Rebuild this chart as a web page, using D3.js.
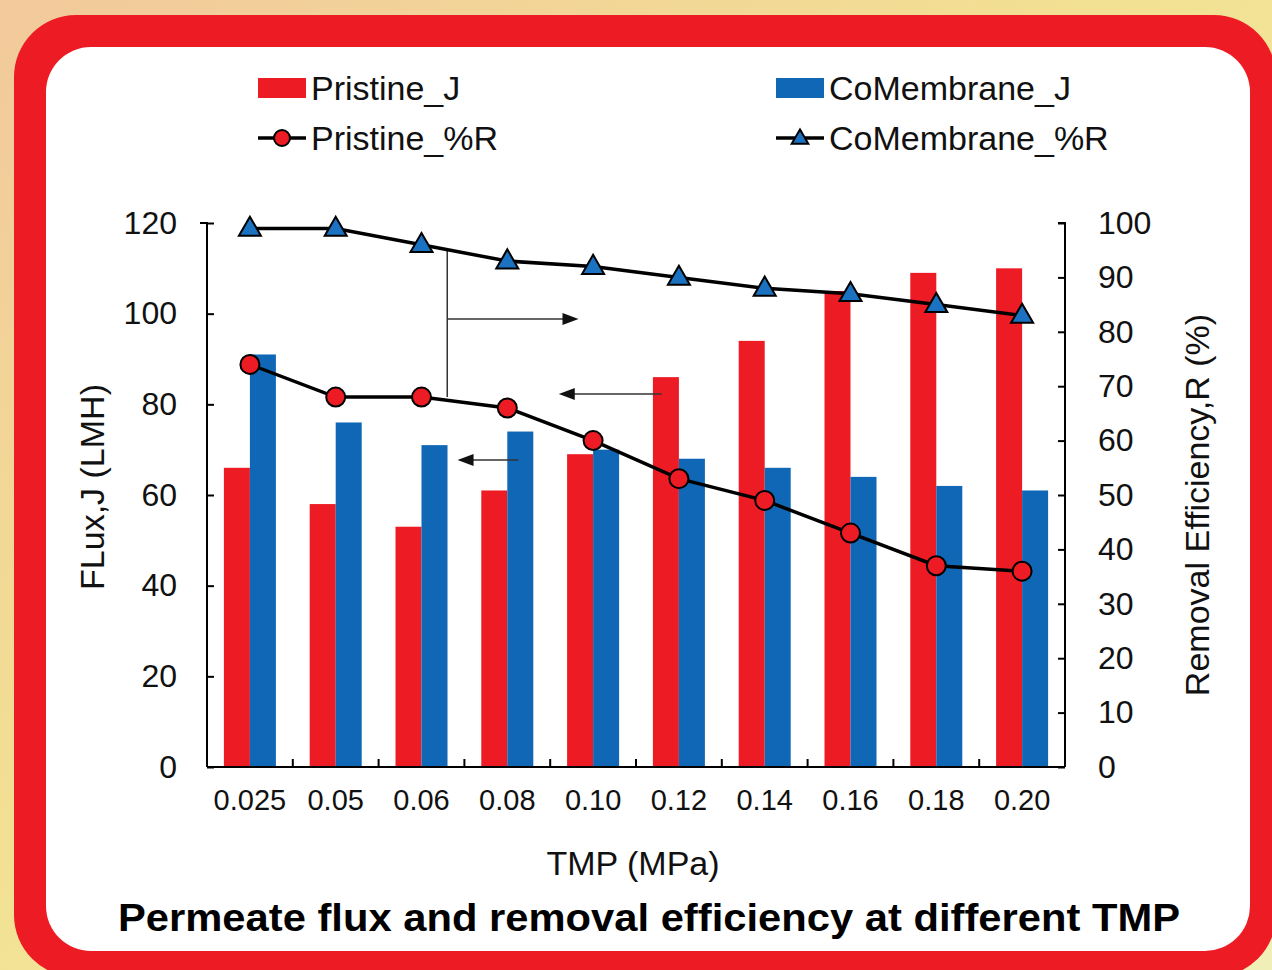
<!DOCTYPE html>
<html><head><meta charset="utf-8">
<script src="https://cdn.jsdelivr.net/npm/d3@7"></script>
<style>html,body{margin:0;padding:0;overflow:hidden;background:#f3e6a6}svg{display:block}</style>
</head><body>
<script>
// ---- data ----
const categories = ["0.025","0.05","0.06","0.08","0.10","0.12","0.14","0.16","0.18","0.20"];
const pristineJ   = [66, 58, 53, 61, 69, 86, 94, 105, 109, 110];
const coMembraneJ = [91, 76, 71, 74, 70, 68, 66, 64, 62, 61];
const pristineR   = [74, 68, 68, 66, 60, 53, 49, 43, 37, 36];
const coMembraneR = [99, 99, 96, 93, 92, 90, 88, 87, 85, 83];
const leftTicks  = [0, 20, 40, 60, 80, 100, 120];
const rightTicks = [0, 10, 20, 30, 40, 50, 60, 70, 80, 90, 100];
const seriesNames = ["Pristine_J", "CoMembrane_J", "Pristine_%R", "CoMembrane_%R"];
// annotation guide lines, in (category position, left-axis value) units
const guideVertical = {pos: 2.8, from: 114, to: 81.6};
const arrowsRight = [{pos0: 2.8, pos1: 4.33, v: 98.8}];
const arrowsLeft  = [{pos0: 5.3, pos1: 4.1, v: 82.3}, {pos0: 3.63, pos1: 2.92, v: 67.7}];

const W = 1272, H = 970;
const RED = "#ed1c24", BLUE = "#0f67b6";
const FONT = "Liberation Sans, Arial, sans-serif";

const svg = d3.select("body").append("svg").attr("width", W).attr("height", H);
const defs = svg.append("defs");
const g1 = defs.append("linearGradient").attr("id","bg").attr("x1","0").attr("y1","0").attr("x2","1").attr("y2","1");
g1.append("stop").attr("offset","0").attr("stop-color","#f2c99c");
g1.append("stop").attr("offset","0.45").attr("stop-color","#f2e192");
g1.append("stop").attr("offset","1").attr("stop-color","#f1efb8");
svg.append("rect").attr("width",W).attr("height",H).attr("fill","url(#bg)");
svg.append("rect").attr("x",14).attr("y",15).attr("width",1262).attr("height",962).attr("rx",62).attr("fill",RED);
svg.append("rect").attr("x",46).attr("y",47).attr("width",1204).attr("height",904).attr("rx",45).attr("fill","#fff");

const m = {left: 207, right: 1065, top: 223, bottom: 767};
const x = d3.scaleBand().domain(categories).range([m.left, m.right]).padding(0);
const bw = x.bandwidth();
const xPos = p => m.left + p * bw; // continuous category position
const yL = d3.scaleLinear().domain([0,120]).range([m.bottom, m.top]);
const yR = d3.scaleLinear().domain([0,100]).range([m.bottom, m.top]);
const sub = d3.scaleBand().domain(["p","c"]).range([bw/2 - 26, bw/2 + 26]);

// bars
const gb = svg.append("g");
gb.selectAll(".rp").data(pristineJ).join("rect")
  .attr("x",(d,i)=>x(categories[i]) + sub("p")).attr("width",sub.bandwidth())
  .attr("y",d=>yL(d)).attr("height",d=>yL(0)-yL(d)).attr("fill",RED);
gb.selectAll(".rc").data(coMembraneJ).join("rect")
  .attr("x",(d,i)=>x(categories[i]) + sub("c")).attr("width",sub.bandwidth())
  .attr("y",d=>yL(d)).attr("height",d=>yL(0)-yL(d)).attr("fill",BLUE);

// axes
const axL = d3.axisLeft(yL).tickValues(leftTicks).tickSize(-7).tickPadding(30);
const axR = d3.axisRight(yR).tickValues(rightTicks).tickSize(-7).tickPadding(33);
const gL = svg.append("g").attr("transform",`translate(${m.left},0)`).call(axL);
const gR = svg.append("g").attr("transform",`translate(${m.right},0)`).call(axR);
const gX = svg.append("g").attr("transform",`translate(0,${m.bottom})`)
  .call(d3.axisBottom(x).tickSize(0).tickPadding(22));
gX.selectAll(".sep").data(categories.slice(1)).join("line")
  .attr("x1",d=>x(d)).attr("x2",d=>x(d)).attr("y1",0).attr("y2",-8)
  .attr("stroke","#000").attr("stroke-width",2);
[gL,gR,gX].forEach(g=>{
  g.selectAll(".domain").attr("stroke","#000").attr("stroke-width",2);
  g.selectAll(".tick line").attr("stroke","#000").attr("stroke-width",2);
  g.selectAll("text").attr("font-family",FONT).attr("fill","#111");
});
gL.select(".domain").attr("d",`M-7,${m.top}H0V${m.bottom}`);
gR.select(".domain").attr("d",`M-7,${m.top}H0V${m.bottom}`);
gX.select(".domain").attr("d",`M${m.left},0H${m.right}`);
gL.selectAll("text").attr("font-size",32);
gR.selectAll("text").attr("font-size",32);
gX.selectAll("text").attr("font-size",29);

// annotation guides
const ga = svg.append("g").attr("stroke","#333").attr("stroke-width",1.5).attr("fill","none");
ga.append("line").attr("x1",xPos(guideVertical.pos)).attr("x2",xPos(guideVertical.pos))
  .attr("y1",yL(guideVertical.from)).attr("y2",yL(guideVertical.to));
function arrow(a){
  const x0 = xPos(a.pos0), x1 = xPos(a.pos1), y = yL(a.v);
  const dir = Math.sign(x1 - x0);
  ga.append("line").attr("x1",x0).attr("x2",x1 - dir*14).attr("y1",y).attr("y2",y);
  svg.append("path").attr("d",`M${x1},${y}L${x1-dir*16},${y-6}L${x1-dir*16},${y+6}Z`).attr("fill","#111");
}
arrowsRight.forEach(arrow); arrowsLeft.forEach(arrow);

// lines
const cx = i => x(categories[i]) + bw/2;
const line = d3.line().x((d,i)=>cx(i)).y(d=>yR(d));
svg.append("path").attr("d",line(coMembraneR)).attr("fill","none").attr("stroke","#000").attr("stroke-width",3.5);
svg.append("path").attr("d",line(pristineR)).attr("fill","none").attr("stroke","#000").attr("stroke-width",3.5);
const tri = d3.symbol().type(d3.symbolTriangle).size(210);
svg.selectAll(".tri").data(coMembraneR).join("path")
  .attr("d",tri).attr("transform",(d,i)=>`translate(${cx(i)},${yR(d)+1})`)
  .attr("fill","#1b72c0").attr("stroke","#000").attr("stroke-width",2);
svg.selectAll(".cir").data(pristineR).join("circle")
  .attr("cx",(d,i)=>cx(i)).attr("cy",d=>yR(d)).attr("r",9.5)
  .attr("fill",RED).attr("stroke","#000").attr("stroke-width",2);

// axis titles
svg.append("text").attr("transform","translate(104,487) rotate(-90)").attr("text-anchor","middle")
  .attr("font-family",FONT).attr("font-size",34).attr("fill","#111").text("FLux,J (LMH)");
svg.append("text").attr("transform","translate(1209,505) rotate(-90)").attr("text-anchor","middle")
  .attr("font-family",FONT).attr("font-size",34).attr("fill","#111").text("Removal Efficiency,R (%)");
svg.append("text").attr("x",633).attr("y",875).attr("text-anchor","middle")
  .attr("font-family",FONT).attr("font-size",34).attr("fill","#111").text("TMP (MPa)");
svg.append("text").attr("x",649).attr("y",931).attr("text-anchor","middle")
  .attr("font-family",FONT).attr("font-size",38).attr("font-weight","bold").attr("fill","#000")
  .attr("textLength",1062).attr("lengthAdjust","spacingAndGlyphs")
  .text("Permeate flux and removal efficiency at different TMP");

// legend
const lg = svg.append("g").attr("font-family",FONT).attr("font-size",34).attr("fill","#111");
const legendItems = [
  {name: seriesNames[0], x: 258, y: 88, kind: "bar", color: RED},
  {name: seriesNames[1], x: 776, y: 88, kind: "bar", color: BLUE},
  {name: seriesNames[2], x: 258, y: 138, kind: "circle"},
  {name: seriesNames[3], x: 776, y: 138, kind: "tri"}
];
legendItems.forEach(it=>{
  if (it.kind === "bar") {
    lg.append("rect").attr("x",it.x).attr("y",it.y-10).attr("width",48).attr("height",20).attr("fill",it.color);
  } else {
    lg.append("line").attr("x1",it.x).attr("x2",it.x+48).attr("y1",it.y).attr("y2",it.y).attr("stroke","#000").attr("stroke-width",3.5);
    if (it.kind === "circle") lg.append("circle").attr("cx",it.x+24).attr("cy",it.y).attr("r",8).attr("fill",RED).attr("stroke","#000").attr("stroke-width",2);
    else lg.append("path").attr("d",d3.symbol().type(d3.symbolTriangle).size(120)).attr("transform",`translate(${it.x+24},${it.y+1})`).attr("fill","#1b72c0").attr("stroke","#000").attr("stroke-width",2);
  }
  lg.append("text").attr("x",it.x+53).attr("y",it.y+12).text(it.name);
});
</script>
</body></html>
